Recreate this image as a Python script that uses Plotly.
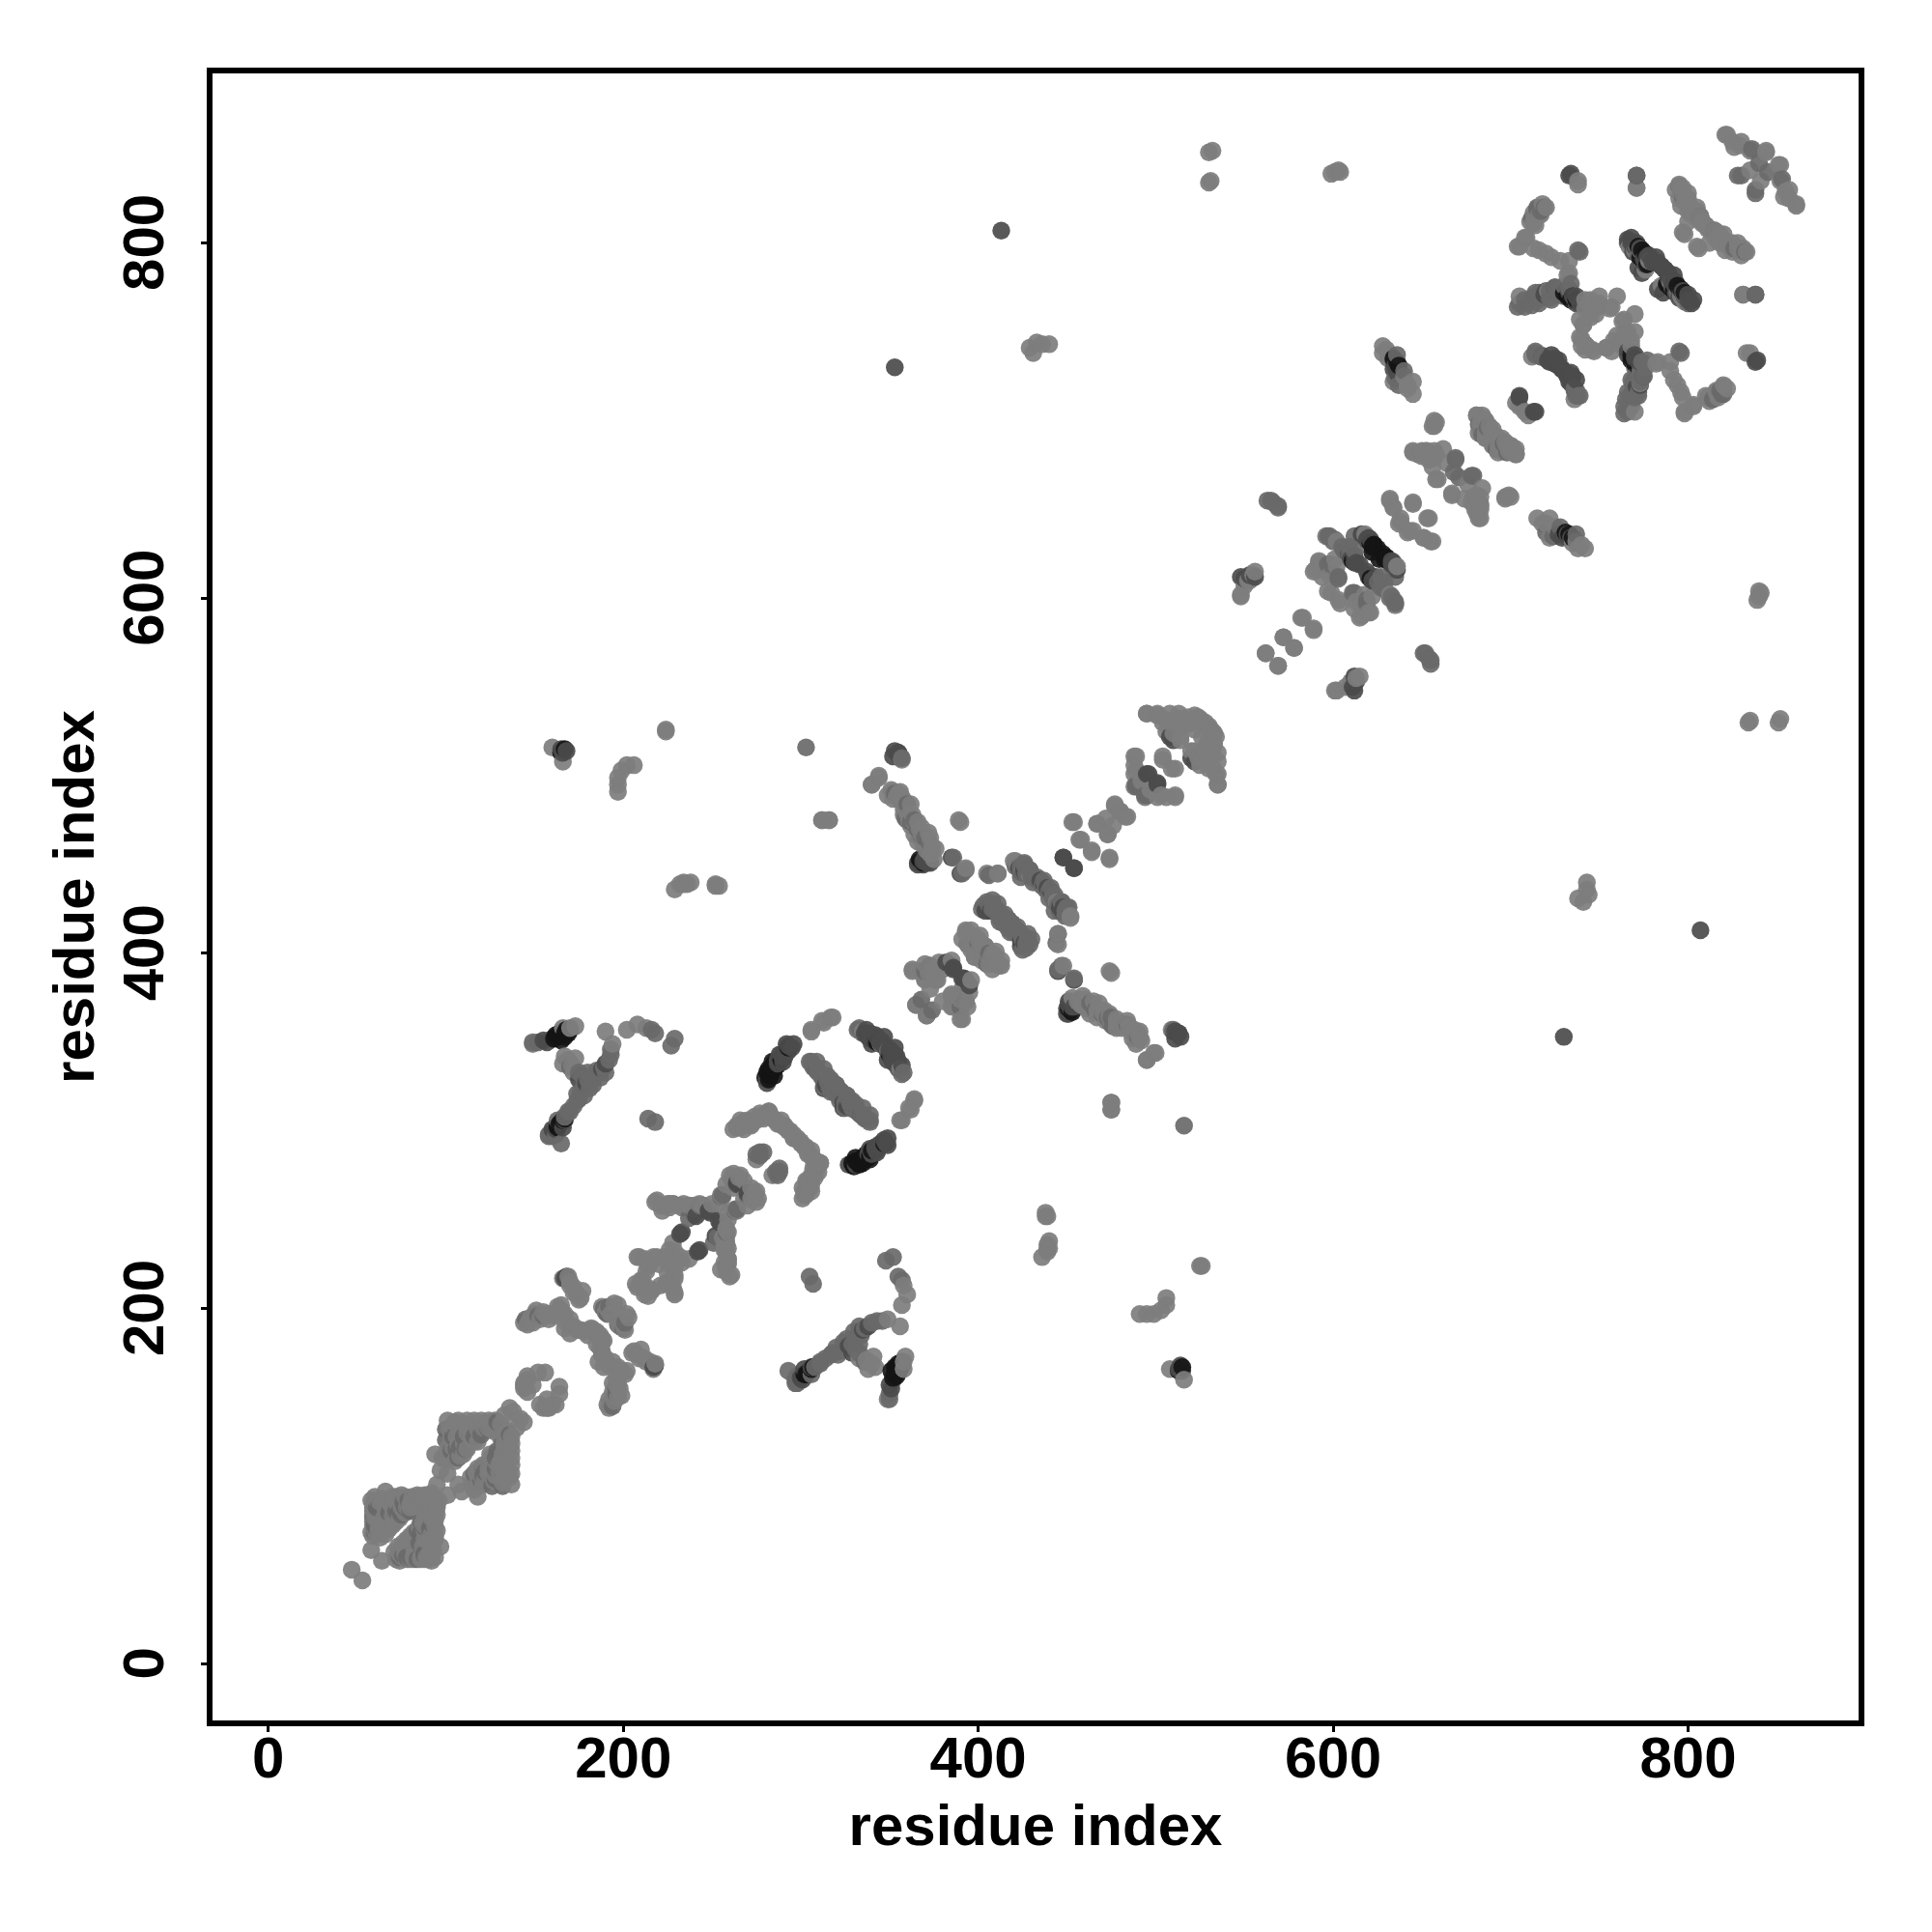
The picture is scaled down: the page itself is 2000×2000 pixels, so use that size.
import plotly.graph_objects as go

# contacts (residue a, residue b); the map is symmetric, so each pair is drawn on both sides
contacts_black = [
 (164,355),(165,354),(166,356),(163,353),(168,357),(167,355),(164,304),(165,305),(163,303),(166,306),
 (161,352),(162,354),(165,351),(167,353),(169,355),(170,357),(163,302),(167,307),
 (284,336),(285,338),(283,334),(286,339),(282,333),(329,282),(332,283),(335,284),(333,281),(337,285),
 (285,335),(287,337),(283,331),(289,340),(284,339),(331,285),(335,282),(330,280),
 (622,629),(623,630),(630,623),(631,621),(609,625),(621,611),(733,636),(735,634),(731,637),
 (774,796),(772,798),(776,794),(732,770),(730,772),(734,768),(768,737),(770,735),
 (368,452),(367,453),(369,451),(293,347),(342,351),(343,350),(790,775),(792,773),(788,777),
 (167,515),(165,513),(626,622),(628,625),
]
contacts_dark = [
 (155,351),(157,350),(160,352),(162,301),(161,300),(167,306),(175,329),(179,327),(190,338),(188,335),
 (293,348),(290,342),(288,340),(281,331),(338,353),(341,351),(346,350),(351,342),(355,337),(339,290),(342,291),(346,293),
 (232,242),(233,243),(248,255),(249,254),(264,271),(265,270),(168,218),(167,217),(241,252),
 (314,326),(316,324),(324,313),(327,315),(334,309),
 (355,513),(356,511),(165,515),(166,513),(168,514),(413,807),(385,454),(390,445),(423,448),(426,446),(435,441),(437,439),
 (444,429),(446,424),(448,426),(404,424),(426,406),(424,407),(382,395),(386,392),(393,385),(391,386),
 (448,454),(454,448),(496,501),(501,495),(508,522),(510,520),(452,369),(513,355),(510,356),
 (618,635),(620,634),(613,620),(615,619),(620,612),(622,610),(624,612),(705,714),(713,705),(732,636),(734,634),
 (766,802),(768,800),(770,798),(782,792),(789,783),(787,785),(783,774),(786,772),
 (733,773),(735,770),(737,766),(720,773),(725,775),(725,733),(727,731),(732,725),(734,723),(772,733),(770,737),(766,739),(771,719),
 (839,734),(733,838),(771,838),(353,730),(612,548),(611,550),(556,612),(553,613),
 (291,343),(293,345),(295,347),(296,349),(292,349),(288,343),(281,329),(327,281),(338,287),(340,287),(344,291),(343,289),
 (336,355),(339,352),(340,349),(343,353),(345,350),(347,348),(349,345),(351,345),(352,340),(354,342),(355,339),(357,337),(353,347),
 (366,450),(370,454),(371,451),(373,451),(453,370),(451,366),(450,369),
 (768,803),(771,800),(773,797),(769,795),(772,793),(775,791),(778,793),(780,789),(776,788),(785,787),(790,780),(792,777),
 (718,736),(721,734),(723,737),(727,734),(729,729),(731,727),(733,722),(735,725),
 (633,621),(633,619),(636,616),(727,636),(729,634),(731,635),(353,514),(352,511),(160,301),(166,302),
]
contacts_mid = [
 (149,350),(152,350),(158,298),(160,297),(165,293),(170,336),(175,333),(181,324),(184,331),(187,333),(193,346),(174,317),(170,311),
 (216,357),(218,355),(229,352),(218,305),(214,307),(277,288),(275,287),(288,279),(286,277),(305,339),(310,333),(312,330),(320,326),(319,322),
 (326,320),(331,313),(329,317),(339,306),(336,308),(332,357),(335,355),
 (348,227),(303,516),(360,475),(362,474),(364,475),(366,470),(370,465),(372,463),(365,371),(368,374),(393,373),(390,370),
 (408,430),(411,428),(413,422),(417,419),(422,415),(428,408),(405,394),(400,406),
 (428,444),(432,442),(440,435),(442,432),(445,411),(444,406),(447,393),(445,391),(454,386),
 (466,368),(470,366),(473,364),(476,359),(484,360),(490,353),(510,357),(489,494),(495,489),
 (597,635),(600,632),(605,629),(599,619),(603,611),(612,603),(619,597),(629,609),(633,601),(635,598),
 (669,678),(671,668),(679,669),(687,696),(682,698),(692,684),
 (563,655),(566,654),(569,652),(651,569),(655,565),
 (704,764),(708,764),(716,772),(722,773),(714,737),(717,736),(738,714),(736,718),
 (712,814),(715,820),(717,818),(739,795),(796,738),(776,730),(769,717),(768,712),(766,705),(820,719),(819,715),
 (795,832),(797,826),(807,815),(838,771),(828,838),(838,830),(845,840),(836,853),
 (240,253),(237,251),(243,258),(255,263),(256,264),(264,270),(270,264),(145,194),(152,196),(155,196),(189,200),(192,201),(191,197),
 (59,84),(60,80),(62,88),(61,76),(76,91),(77,88),(79,92),(80,86),(103,120),(105,128),(108,122),(124,132),(129,136),(107,116),(111,121),
 (307,336),(309,334),(311,332),(313,329),(313,325),(315,328),(317,322),(318,326),(321,320),(323,322),(325,316),(327,318),(329,313),(331,315),(333,310),(335,313),(337,307),(339,309),
 (176,322),(178,326),(180,329),(183,326),(185,334),(187,330),(189,336),(190,333),(192,340),(193,343),(178,320),(175,318),(172,314),(174,321),(177,331),(180,333),
 (421,449),(424,446),(426,451),(429,447),(431,440),(433,443),(436,438),(438,437),(441,437),(443,430),(445,427),(447,429),(449,424),(450,426),(424,443),
 (406,427),(410,425),(412,418),(415,420),(417,414),(419,417),(420,412),(424,411),(425,408),(427,403),(429,405),(402,425),
 (794,772),(796,773),(798,771),(800,766),(715,768),(713,770),(712,765),(722,769),(727,773),
 (737,717),(739,714),(770,730),(773,727),(771,726),(768,723),(775,725),(766,716),(772,714),(768,708),(774,733),(777,734),
 (625,609),(627,606),(627,612),(635,612),(737,636),(720,637),(724,635),(728,640),
 (345,349),(358,333),(162,298),(158,297),(169,311),(163,306),(167,308),(100,126),(100,132),(104,128),(106,121),(60,74),(60,78),(61,88),(74,86),
 (68,85),(72,86),(75,84),(79,87),(110,128),(116,128),(120,129),
]
contacts_light = [
 (47,53),(58,64),(58,92),(59,88),(59,80),(59,72),(60,94),(60,86),(61,82),(62,74),(63,91),(66,97),(64,77),
 (75,95),(77,94),(81,94),(85,94),(75,88),(79,87),(72,94),(70,94),(72,91),(70,88),(85,92),(87,93),(90,93),(95,101),
 (58,74),(59,78),(59,82),(59,86),(59,90),(61,73),(62,77),(61,83),(60,89),
 (60,76),(60,82),(61,92),(64,93),(78,88),(80,90),(82,92),(83,88),(84,95),(88,95),(92,96),(71,93),(73,92),(75,91),(90,95),
 (63,71),(66,73),(68,76),(70,78),(72,80),(74,82),(77,85),(80,88),(83,90),(84,92),(65,82),(66,87),(69,90),(70,83),
 (94,118),(98,116),(101,137),(102,132),(103,127),(104,122),(107,137),(108,130),(110,124),(116,137),(118,132),(120,137),(122,135),
 (105,136),(104,133),(101,115),(103,118),(106,128),(112,134),(124,137),(136,144),(133,140),(103,128),(101,121),(99,116),(128,137),
 (109,135),(112,137),(114,131),(114,128),(121,133),(126,136),(127,131),(131,135),(138,142),(97,109),(101,107),
 (105,114),(108,117),(112,121),(116,125),(124,133),(128,133),(112,130),(118,125),(107,124),(106,120),(110,118),
 (144,158),(144,155),(146,160),(146,153),(149,157),(152,164),(156,164),(144,157),(146,162),
 (144,192),(146,191),(148,195),(150,197),(157,197),(160,197),(165,199),(168,192),(165,202),(167,189),(170,186),(176,188),(180,185),(183,188),(182,189),(175,188),
 (147,193),(149,192),(151,199),(153,194),(155,198),(158,194),(162,196),(163,201),(167,197),(170,194),(172,190),(174,188),(178,187),(181,188),(185,187),
 (170,215),(174,208),(175,205),(172,212),(157,196),(166,217),(169,218),(170,213),(172,209),(176,206),(177,210),
 (191,200),(195,203),(197,202),(188,201),(190,198),(193,197),
 (208,229),(219,229),(226,233),(207,214),(209,229),(223,229),(214,224),(223,228),(229,232),(218,260),(226,259),(234,259),(243,259),(219,261),(222,255),(233,257),
 (212,228),(215,225),(217,229),(220,225),(211,216),(208,212),(210,216),(213,221),(228,237),(245,258),(250,259),(254,259),
 (258,245),(258,240),(258,237),(258,232),(259,228),(257,226),(258,221),(259,225),(228,259),(222,258),(237,258),(240,256),(235,257),
 (260,275),(255,264),(261,273),(256,263),(275,284),(258,270),(262,268),(262,276),(266,275),(268,272),(272,262),(274,265),
 (149,349),(167,342),(171,337),(194,349),(190,356),(202,357),(208,360),(213,358),(173,359),(170,358),(166,358),(166,338),(169,340),(172,333),(173,341),
 (264,302),(268,305),(274,308),(282,311),(289,306),(294,300),(300,293),(304,288),(311,282),(306,275),(301,268),(303,264),(305,271),
 (262,301),(266,306),(270,306),(272,304),(277,310),(279,309),(284,307),(287,304),(291,303),(296,296),(298,296),(302,291),(306,286),(309,283),(308,278),(305,268),(303,272),(307,279),(302,266),
 (306,357),(312,362),(317,364),(361,313),(364,318),(356,306),(356,335),
 (340,495),(344,500),(352,491),(357,488),(360,483),(312,475),(316,475),(389,475),(393,448),(405,445),(411,445),(420,452),(429,444),(452,421),
 (349,489),(352,487),(355,490),(358,485),(360,479),(362,484),(363,478),(366,474),(368,467),(368,471),(372,468),(374,460),(373,465),(376,459),(375,453),(373,456),
 (457,374),(465,368),(474,364),(478,358),(474,390),(485,359),(499,344),(495,340),(475,316),(475,312),(509,357),
 (458,371),(461,369),(463,366),(467,364),(470,367),(472,362),(475,361),(478,361),(481,358),(486,356),(488,354),(492,351),(491,356),
 (393,413),(408,400),(412,393),(394,406),(402,398),(399,403),(404,404),(363,391),(373,393),(377,385),(396,385),(385,376),(371,365),(390,363),(380,373),
 (394,410),(396,409),(398,406),(401,410),(403,401),(405,402),(407,397),(409,399),(411,395),(413,396),(396,402),(391,408),(398,398),
 (368,390),(370,385),(372,389),(375,388),(378,395),(380,391),(390,374),(386,370),(392,378),(394,370),
 (453,474),(458,464),(464,457),(474,454),(467,473),(477,483),(484,477),(473,467),(472,476),(480,480),
 (488,511),(488,506),(488,501),(488,494),(503,489),(511,489),(504,511),(509,504),(492,497),
 (495,535),(501,534),(513,532),(524,533),(534,522),(535,513),(535,508),(535,501),(535,495),(520,514),(514,522),(504,530),(518,529),(528,530),(531,526),(533,518),(522,526),
 (510,524),(515,528),(520,531),(530,520),(528,514),(532,505),(530,510),(532,515),(525,532),(506,525),
 (160,516),(166,508),(197,491),(197,495),(197,499),(199,503),(202,506),(206,506),(224,526),(224,525),(234,440),(238,440),(236,439),(254,438),(252,438),(252,439),
 (232,439),(234,439),(229,436),(431,738),(436,743),(440,743),(429,741),(433,744),(532,852),(531,835),(603,841),(604,840),(601,840),(599,839),(530,834),(530,851),
 (548,601),(553,610),(556,615),(583,589),(589,582),(572,578),(578,572),(562,569),(569,562),(602,548),(607,550),(613,555),(610,552),
 (589,615),(594,612),(599,603),(604,597),(616,590),(618,594),(596,635),(636,618),(632,602),(618,602),
 (594,618),(592,620),(613,598),(616,596),(622,601),(621,592),
 (632,656),(634,651),(645,653),(638,643),(642,637),(654,645),(645,638),(655,632),(651,634),
 (645,682),(652,683),(658,681),(664,676),(658,667),(667,659),(683,657),(683,645),(680,650),(684,662),(658,699),(657,697),
 (679,657),(683,653),(681,648),(654,678),(650,683),(656,674),
 (681,703),(683,699),(697,688),(703,681),(690,691),(693,686),(700,684),(700,657),(697,656),
 (684,703),(686,700),(689,694),(691,692),(695,690),(698,686),(682,693),(686,690),(690,686),(695,683),(701,685),
 (715,645),(722,645),(722,634),(718,642),(725,640),(740,630),(737,632),(742,628),(735,631),(738,628),(720,642),
 (736,712),(703,710),(708,705),
 (720,820),(713,811),(704,798),(709,803),(713,797),(720,794),(728,790),(733,783),(713,817),(716,816),(718,822),(711,812),(714,810),
 (742,763),(749,764),(757,764),(763,756),(766,750),(740,746),(747,739),(754,741),(741,754),(745,758),(760,748),(743,742),(762,745),
 (742,740),(757,739),(764,745),(768,742),(745,768),(750,770),(760,770),
 (782,732),(790,733),(792,723),(796,716),(798,705),(803,708),(812,713),(816,717),(773,721),(770,705),
 (738,835),(771,831),(798,767),(796,770),(776,785),(778,790),
 (798,805),(806,797),(814,805),(820,805),(825,799),(833,795),(821,796),(801,821),(807,815),(810,810),(828,800),
 (793,830),(796,830),(798,823),(800,825),(802,818),(805,818),(808,812),(811,808),(812,800),(816,802),(818,800),(822,800),(825,795),(828,797),(831,797),
 (831,771),(833,738),(821,861),(829,855),(844,851),(835,841),(852,844),(852,835),(854,826),(861,822),(857,830),(825,857),
]

tiers = [
    (contacts_black, "rgba(20,20,20,0.9)"),
    (contacts_dark, "rgba(75,75,75,0.92)"),
    (contacts_mid, "rgba(105,105,105,0.92)"),
    (contacts_light, "rgba(125,125,125,0.92)"),
]
tick_vals = [0, 200, 400, 600, 800]
axis_title = "residue index"
font = "Liberation Sans, Arial, sans-serif"

marks = []
for pairs, colour in tiers:
    for a, b in pairs:
        marks.append((a, b, colour))
        marks.append((b, a, colour))
marks.sort(key=lambda m: (m[0], m[1]))

fig = go.Figure(go.Scatter(
    x=[m[0] for m in marks], y=[m[1] for m in marks], mode="markers",
    marker=dict(size=18.5, color=[m[2] for m in marks], line=dict(width=0)),
    showlegend=False))

axis = dict(showline=True, mirror=True, linecolor="black", linewidth=6, showgrid=False, zeroline=False,
            ticks="outside", ticklen=6, tickwidth=3, tickcolor="black", tickvals=tick_vals)
tick_font = dict(family=font, size=60, color="black", weight="bold")
title_font = dict(family=font, size=60, color="black", weight="bold")

fig.update_layout(
    width=1992, height=1992, autosize=False,
    paper_bgcolor="white", plot_bgcolor="white",
    margin=dict(l=211.5, r=76, t=67.7, b=219, pad=0),
    xaxis=dict(axis, range=[-31.45, 896.1], tickfont=tick_font, ticklabelstandoff=-25,
               ticktext=[str(v) for v in tick_vals],
               title=dict(text=axis_title, font=title_font, standoff=18)),
    yaxis=dict(axis, range=[-31.9, 895.5], tickangle=-90, tickfont=tick_font, ticklabelstandoff=15,
               ticktext=[str(v) + "\u00a0" for v in tick_vals],
               title=dict(text=axis_title, font=title_font, standoff=0)),
)
fig.write_html("out.html")
